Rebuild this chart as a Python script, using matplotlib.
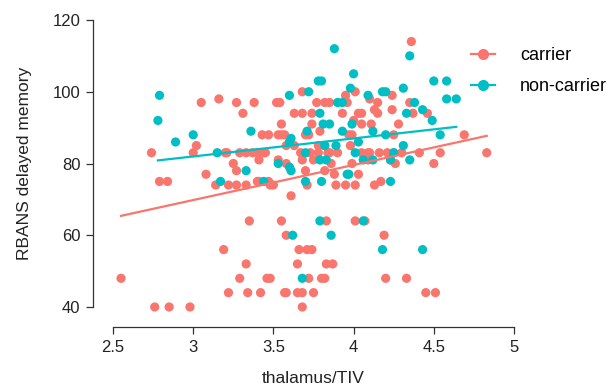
import numpy as np
import matplotlib
matplotlib.use("Agg")
import matplotlib.pyplot as plt
from matplotlib.lines import Line2D

plt.rcParams['font.family'] = ['Liberation Sans', 'DejaVu Sans']

RED = "#F8766D"
TEAL = "#00BFC4"

# carrier: (y value, list of x values)
carrier_rows = {
    114: [4.36],
    100: [3.68, 4.01],
    99: [3.95, 4.24],
    98: [3.16, 4.10],
    97: [3.05, 3.27, 3.38, 3.52, 3.54, 3.77, 3.82, 3.85, 3.96, 4.15, 4.35],
    95: [4.13, 4.24],
    94: [3.31, 3.63, 3.68, 3.74, 3.93, 4.03, 4.05, 4.15, 4.37, 4.46],
    92: [4.00],
    91: [3.55, 3.74, 4.05, 4.11, 4.28],
    89: [3.79],
    88: [3.43, 3.47, 3.53, 3.55, 3.57, 3.70, 3.72, 3.97, 3.99, 4.25, 4.69],
    85: [3.02, 3.58, 3.63, 3.78, 3.82, 3.98],
    83: [2.74, 3.00, 3.20, 3.21, 3.29, 3.33, 3.37, 3.40, 3.44, 3.45, 3.67, 3.73,
         3.78, 3.84, 3.85, 3.90, 4.05, 4.09, 4.10, 4.16, 4.21, 4.25, 4.30, 4.41,
         4.54, 4.83],
    81: [3.41, 3.53, 3.68, 3.75, 4.09, 4.23],
    80: [3.25, 3.58, 3.86, 3.99, 4.26, 4.50],
    78: [3.27, 3.70, 3.82],
    77: [3.08, 3.88, 4.03],
    75: [2.79, 2.84, 3.40, 3.41, 3.47, 4.17],
    74: [3.14, 3.22, 3.27, 3.33, 3.48, 3.50, 3.71, 3.89, 3.95, 4.01, 4.13],
    71: [3.61],
    64: [3.35, 3.55, 3.83, 4.01, 4.07],
    60: [3.58, 4.19],
    56: [3.19, 3.66, 3.71, 3.74],
    52: [3.33, 3.65, 3.83, 3.87],
    48: [2.55, 3.29, 3.46, 3.48, 3.72, 3.80, 3.82, 4.20, 4.33],
    44: [3.22, 3.34, 3.42, 3.57, 3.58, 3.65, 3.68, 3.75, 4.45, 4.51],
    40: [2.76, 2.85, 2.98, 3.68],
}

noncarrier_rows = {
    112: [3.88],
    110: [4.35],
    105: [4.00],
    103: [3.78, 3.80, 4.50, 4.58],
    101: [3.98, 4.31],
    100: [3.72, 4.18, 4.20],
    99: [2.79, 3.60, 4.09],
    98: [4.58, 4.64],
    97: [3.90, 3.93, 4.38],
    95: [4.43],
    94: [3.79, 4.33],
    92: [2.78, 4.49],
    91: [3.81, 3.85, 3.99],
    89: [3.36, 3.71, 3.93, 4.12],
    88: [3.00, 4.20, 4.54],
    87: [3.61],
    86: [2.89, 3.60, 4.03],
    85: [3.82, 3.89, 4.31],
    83: [3.15, 3.70, 4.01, 4.25],
    81: [3.79, 3.83, 4.06, 4.12, 4.23, 4.35],
    80: [3.53],
    79: [3.60],
    78: [3.33, 3.61],
    77: [3.96, 3.97],
    75: [3.17, 3.44, 3.70, 3.80, 4.23],
    64: [3.79, 4.06],
    60: [3.62, 3.86],
    56: [4.18, 4.43],
    48: [3.68],
}

def flatten(rows):
    xs, ys = [], []
    for y, xl in rows.items():
        for x in xl:
            xs.append(x)
            ys.append(y)
    return np.array(xs), np.array(ys, dtype=float)

cx, cy = flatten(carrier_rows)
nx, ny = flatten(noncarrier_rows)

x_ticks = [2.5, 3, 3.5, 4, 4.5, 5]
x_tick_labels = ["2.5", "3", "3.5", "4", "4.5", "5"]
y_ticks = [40, 60, 80, 100, 120]

fig = plt.figure(figsize=(6.13, 3.88), dpi=100)
ax = fig.add_axes([113/613, 1 - 307/388, (514-113)/613, (307-20)/388])

ax.scatter(cx, cy, s=44, color=RED, edgecolors='none', zorder=3, clip_on=False)
ax.scatter(nx, ny, s=44, color=TEAL, edgecolors='none', zorder=3, clip_on=False)

for xs, ys, col in [(cx, cy, RED), (nx, ny, TEAL)]:
    b, a = np.polyfit(xs, ys, 1)
    xx = np.array([xs.min(), xs.max()])
    ax.plot(xx, a + b * xx, color=col, lw=1.6, zorder=4, clip_on=False)

ax.set_xlim(2.5, 5)
ax.set_ylim(40, 120)
ax.set_xticks(x_ticks)
ax.set_xticklabels(x_tick_labels)
ax.set_yticks(y_ticks)
for s in ['top', 'right']:
    ax.spines[s].set_visible(False)
ax.spines['left'].set_position(('outward', 14.4))
ax.spines['bottom'].set_position(('outward', 14.4))
ax.spines['left'].set_bounds(40, 120)
ax.spines['bottom'].set_bounds(2.5, 5)
for s in ['left', 'bottom']:
    ax.spines[s].set_color('#333333')
    ax.spines[s].set_linewidth(0.9)
ax.tick_params(axis='both', direction='out', length=5, width=0.9, color='#333333',
               labelsize=12, labelcolor='#222222', pad=4)
ax.set_xlabel("thalamus/TIV", fontsize=12.5, color='#222222', labelpad=12)
ax.set_ylabel("RBANS delayed memory", fontsize=12.5, color='#222222', labelpad=15)

handles = [Line2D([], [], color=RED, lw=1.6, marker='o', markersize=7),
           Line2D([], [], color=TEAL, lw=1.6, marker='o', markersize=7)]
fig.legend(handles, ["carrier", "non-carrier"], loc='upper left',
           bbox_to_anchor=(464/613, 1 - 40/388), frameon=False, fontsize=13,
           handlelength=1.3, handletextpad=1.4, labelspacing=0.78,
           borderaxespad=0.0)

fig.savefig("out.png", dpi=100)
